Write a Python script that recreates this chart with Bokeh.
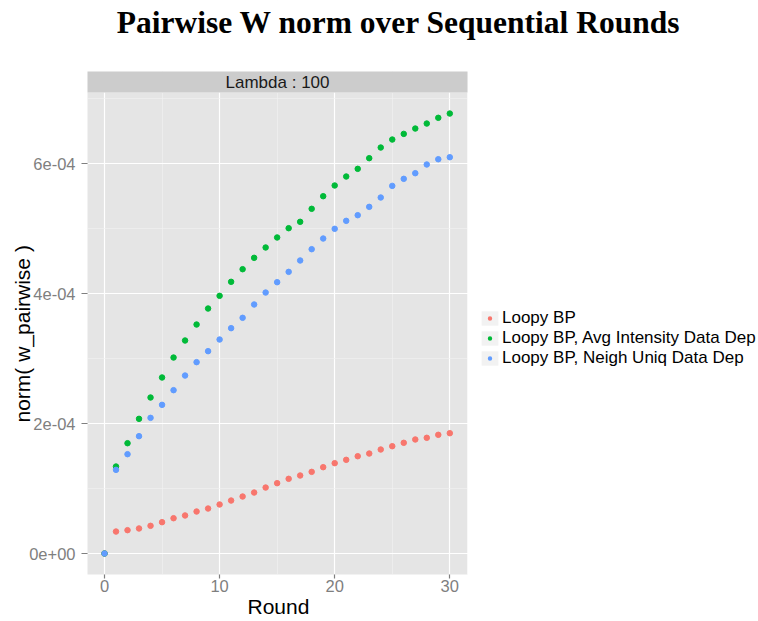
from bokeh.plotting import figure
from bokeh.models import (Range1d, Label, Legend, LegendItem, FixedTicker,
                          ColumnDataSource, Title)
from bokeh.embed import file_html
from bokeh.resources import INLINE

# ---- data -------------------------------------------------------------
rounds = list(range(0, 31))

loopy_bp = [0.0, 3.38e-5, 3.59e-5, 3.85e-5, 4.26e-5, 4.82e-5, 5.43e-5, 5.85e-5,
            6.46e-5, 6.92e-5, 7.54e-5, 8.15e-5, 8.77e-5, 9.38e-5, 1.015e-4,
            1.082e-4, 1.149e-4, 1.20e-4, 1.256e-4, 1.328e-4, 1.39e-4, 1.441e-4,
            1.497e-4, 1.538e-4, 1.60e-4, 1.651e-4, 1.703e-4, 1.754e-4, 1.78e-4,
            1.826e-4, 1.851e-4]

avg_intensity = [0.0, 1.338e-4, 1.697e-4, 2.072e-4, 2.40e-4, 2.708e-4, 3.015e-4,
                 3.277e-4, 3.523e-4, 3.769e-4, 3.964e-4, 4.18e-4, 4.374e-4,
                 4.549e-4, 4.708e-4, 4.862e-4, 5.005e-4, 5.103e-4, 5.303e-4,
                 5.497e-4, 5.662e-4, 5.80e-4, 5.918e-4, 6.082e-4, 6.246e-4,
                 6.369e-4, 6.456e-4, 6.538e-4, 6.615e-4, 6.703e-4, 6.769e-4]

neigh_uniq = [0.0, 1.287e-4, 1.528e-4, 1.805e-4, 2.087e-4, 2.287e-4, 2.513e-4,
              2.738e-4, 2.944e-4, 3.113e-4, 3.292e-4, 3.467e-4, 3.626e-4,
              3.831e-4, 4.015e-4, 4.174e-4, 4.333e-4, 4.508e-4, 4.682e-4,
              4.846e-4, 4.995e-4, 5.118e-4, 5.205e-4, 5.333e-4, 5.477e-4,
              5.656e-4, 5.764e-4, 5.851e-4, 5.985e-4, 6.066e-4, 6.097e-4]

series_names = ["Loopy BP", "Loopy BP, Avg Intensity Data Dep",
                "Loopy BP, Neigh Uniq Data Dep"]
series_colors = ["#F8766D", "#00BA38", "#619CFF"]

x_ticks = [0, 10, 20, 30]
x_minor = [5, 15, 25]
y_ticks = [0.0, 0.0002, 0.0004, 0.0006]
y_minor = [0.0001, 0.0003, 0.0005, 0.0007]
y_tick_labels = ["0e+00", "2e-04", "4e-04", "6e-04"]

title_text = "Pairwise W norm over Sequential Rounds"
strip_text = "Lambda : 100"
x_label = "Round"
y_label = "norm( w_pairwise )"

SANS = "Liberation Sans"
GREY50 = "#7F7F7F"

# The canvas area right of the y axis is one frame; the data panel is the
# lower-left part of it, the facet strip sits on top of the panel, and the
# legend and title share the remaining white space.
X0, X_PANEL, X1 = -1.477, 31.54, 56.82          # frame left, panel right, frame right
Y0, Y_PANEL, Y_STRIP, Y1 = -0.323e-4, 7.092e-4, 7.415e-4, 8.508e-4
PAD_X, PAD_Y = 1.0, 0.1e-4                      # masks overshoot the frame edges

p = figure(width=758, height=621, output_backend="svg", toolbar_location=None,
           title_location=None,
           x_range=Range1d(X0, X1), y_range=Range1d(Y0, Y1),
           min_border_left=87, min_border_right=0,
           min_border_top=0, min_border_bottom=47,
           background_fill_color="white", border_fill_color="white",
           outline_line_color=None)

p.xaxis.ticker = FixedTicker(ticks=x_ticks, minor_ticks=x_minor)
p.yaxis.ticker = FixedTicker(ticks=y_ticks, minor_ticks=y_minor)
p.yaxis.major_label_overrides = dict(zip(y_ticks, y_tick_labels))
p.xaxis.bounds = (X0, X_PANEL)
p.yaxis.bounds = (Y0, Y_PANEL)

for ax in (p.xaxis, p.yaxis):
    ax.axis_line_color = None
    ax.major_tick_line_color = GREY50
    ax.major_tick_line_width = 1.2
    ax.major_tick_in = 0
    ax.minor_tick_line_color = None
    ax.major_label_text_color = GREY50
    ax.major_label_text_font = SANS
    ax.major_label_text_font_size = "16.5px"

p.xaxis.major_tick_out = 4
p.xaxis.major_label_standoff = 1
p.yaxis.major_tick_out = 6
p.yaxis.major_label_standoff = 6

# axis titles, centred on the data panel rather than on the whole frame
p.add_layout(Title(text=x_label, align="left", offset=160,
                   vertical_align="top", standoff=0,
                   text_font=SANS, text_font_size="21px",
                   text_font_style="normal", text_color="black"), "below")
p.add_layout(Title(text=y_label, align="left", offset=152,
                   vertical_align="bottom", standoff=-14,
                   text_font=SANS, text_font_size="21px",
                   text_font_style="normal", text_color="black"), "left")

p.grid.grid_line_color = "white"
p.grid.grid_line_width = 1.2
p.grid.minor_grid_line_color = "#F2F2F2"
p.grid.minor_grid_line_width = 0.6

# grey panel background (beneath the grid), white masks over the grid
# outside the panel, and the grey facet strip
p.quad(left=[X0 - PAD_X], right=[X_PANEL], bottom=[Y0 - PAD_Y], top=[Y_PANEL],
       fill_color="#E5E5E5", line_color=None, level="image")
p.quad(left=[X_PANEL], right=[X1 + PAD_X], bottom=[Y0 - PAD_Y], top=[Y1 + PAD_Y],
       fill_color="white", line_color=None)
p.quad(left=[X0 - PAD_X], right=[X_PANEL], bottom=[Y_STRIP], top=[Y1 + PAD_Y],
       fill_color="white", line_color=None)
p.quad(left=[X0 - PAD_X], right=[X_PANEL], bottom=[Y_PANEL], top=[Y_STRIP],
       fill_color="#CCCCCC", line_color=None)
p.add_layout(Label(x=(X0 + X_PANEL) / 2, y=(Y_PANEL + Y_STRIP) / 2,
                   text=strip_text, text_align="center", text_baseline="middle",
                   text_font=SANS, text_font_size="17px",
                   text_color="#1A1A1A"))

# chart title
p.add_layout(Label(x=25.59, y=8.174e-4, text=title_text,
                   text_align="center", text_baseline="middle",
                   text_font="Liberation Serif", text_font_style="bold",
                   text_font_size="31.5px", text_color="black"))

items = []
for name, vals, col in zip(series_names, [loopy_bp, avg_intensity, neigh_uniq],
                           series_colors):
    src = ColumnDataSource(dict(x=rounds, y=vals))
    p.scatter("x", "y", source=src, size=5.5, fill_color=col, line_color=col)
    # legend key: grey tile with a small dot (hidden renderers, key only)
    tile = p.quad(left=[0], right=[1], bottom=[0], top=[vals[-1]],
                  fill_color="#F2F2F2", line_color=None, visible=False)
    dot = p.scatter(x=[rounds[-1]], y=[vals[-1]], size=6, fill_color=col,
                    line_color="#F2F2F2", line_width=2.8, visible=False)
    items.append(LegendItem(label=name, renderers=[tile, dot]))

legend = Legend(items=items, location=(392, 206), orientation="vertical",
                margin=0, padding=0, spacing=0,
                glyph_width=21, glyph_height=18, label_standoff=2,
                label_height=18, label_text_font=SANS,
                label_text_font_size="17px", label_text_color="black",
                border_line_color=None, background_fill_alpha=0,
                inactive_fill_alpha=0)
p.add_layout(legend)

open("out.html", "w").write(file_html(p, INLINE))
